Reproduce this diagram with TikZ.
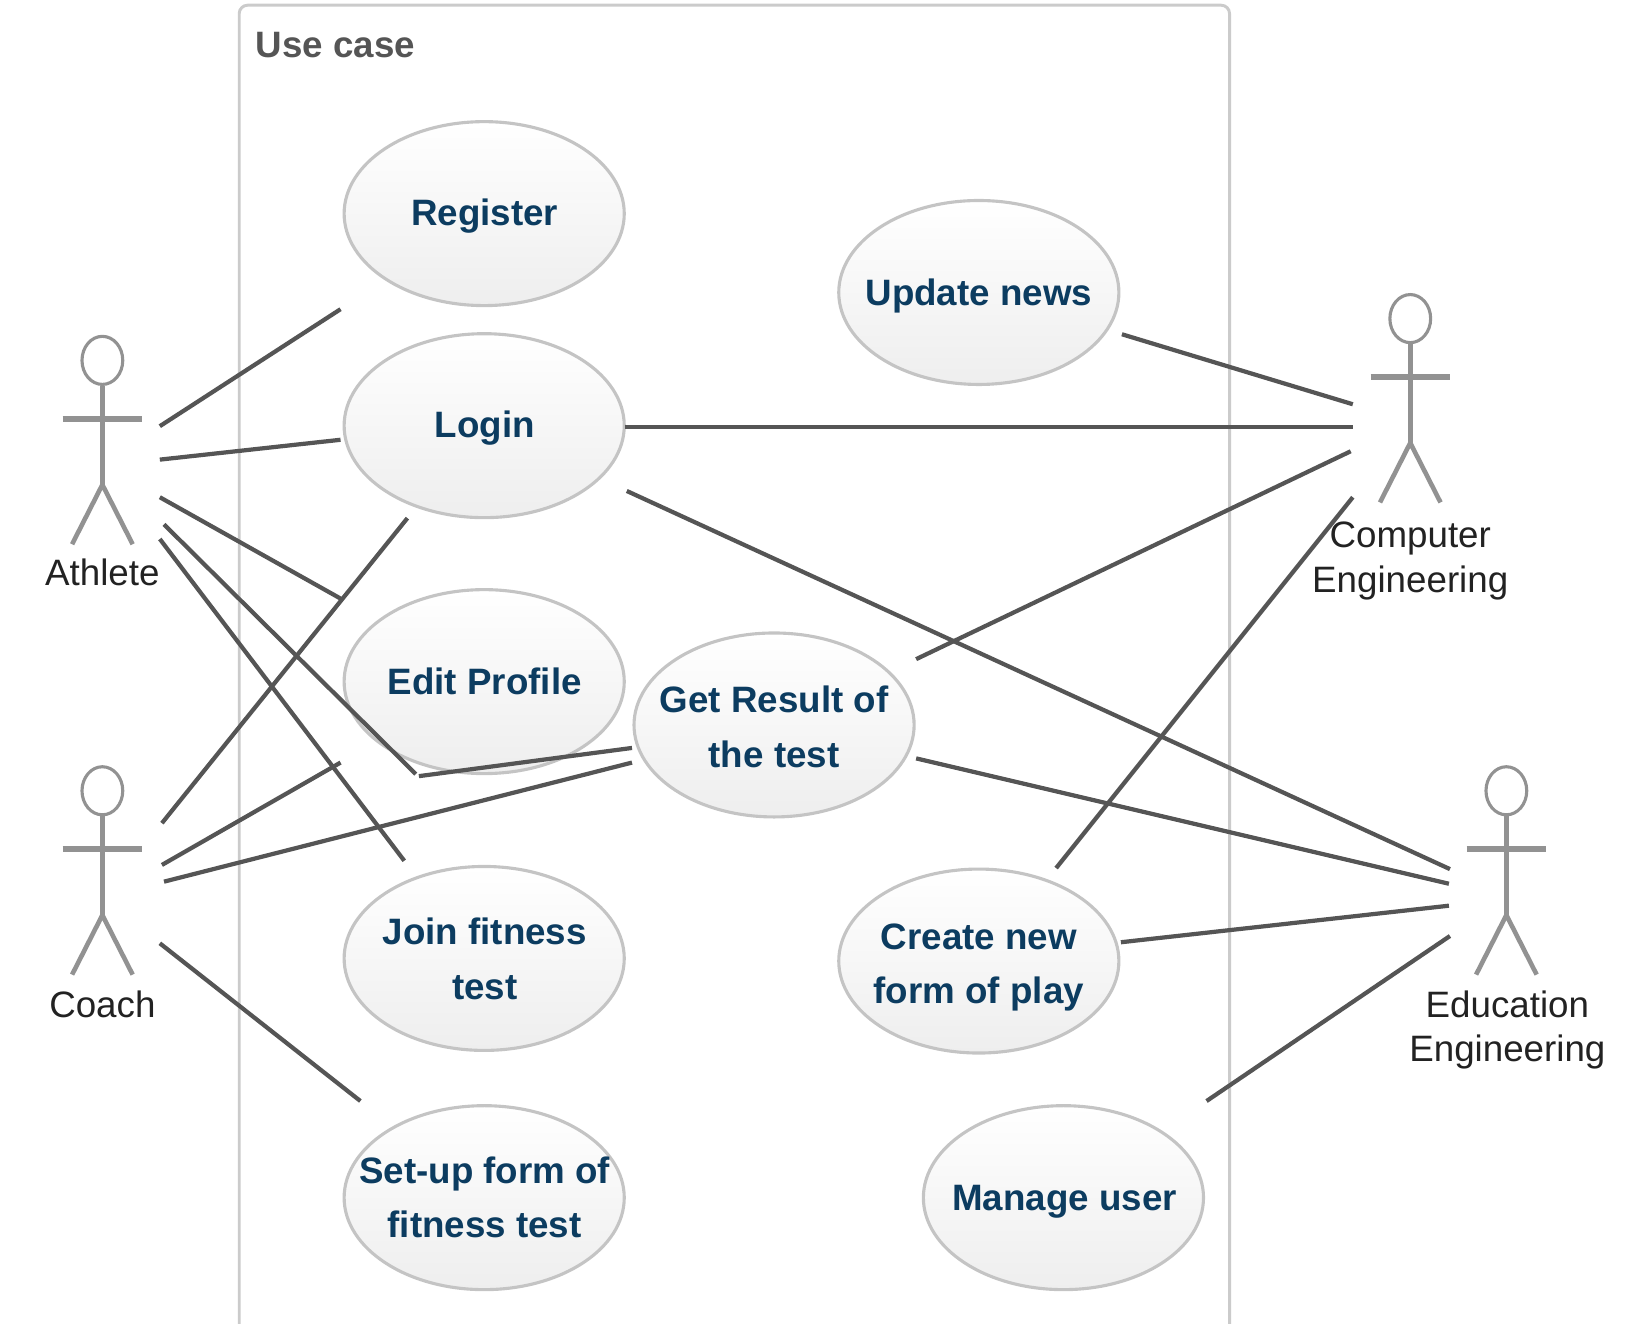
\documentclass[tikz,border=0pt]{standalone}
\usepackage{fontspec}
\setmainfont{Liberation Sans}
\usetikzlibrary{shapes.geometric}
\definecolor{ucfill}{HTML}{EEEEEE}
\definecolor{ucedge}{HTML}{C4C4C4}
\definecolor{uctxt}{HTML}{0C3C60}
\definecolor{lnk}{HTML}{555555}
\definecolor{stick}{HTML}{929292}
\definecolor{frm}{HTML}{CBCBCB}
\definecolor{ttl}{HTML}{555555}
\definecolor{actxt}{HTML}{222222}
\tikzset{
  usecase/.style={ellipse,draw=ucedge,line width=0.85pt,top color=white,bottom color=ucfill,minimum width=2.68cm,minimum height=1.76cm,inner sep=0pt},
  uctext/.style={align=center,text=uctxt,font=\fontsize{10}{14.8}\selectfont\bfseries,inner sep=0pt},
  actorlabel/.style={align=center,text=actxt,font=\fontsize{10}{12}\selectfont,inner sep=0pt},
  link/.style={draw=lnk,line width=1.15pt},
  stickline/.style={draw=stick,line width=1.25pt},
  stickarm/.style={draw=stick,line width=1.6pt},
}
\newcommand{\stickman}[3]{% name, x, y of head centre
  \node[ellipse,draw=stick,line width=0.85pt,minimum width=0.39cm,minimum height=0.46cm,inner sep=0pt] (#1head) at (#2,#3) {};
  \coordinate (#1hip) at (#2,#3+119);
  \coordinate (#1la) at (#2-38,#3+56);
  \coordinate (#1ra) at (#2+38,#3+56);
  \coordinate (#1ll) at (#2-29,#3+176);
  \coordinate (#1rl) at (#2+29,#3+176);
  \draw[stickline] (#1head.south) -- (#1hip);
  \draw[stickarm] (#1la) -- (#1ra);
  \draw[stickline] (#1ll) -- (#1hip) -- (#1rl);
}
\begin{document}
\begin{tikzpicture}[x=0.01cm,y=-0.01cm]
\useasboundingbox (0,0) rectangle (1568,1267.4);
\clip (0,0) rectangle (1568,1267.4);
% frame
\coordinate (fa) at (229,1290);
\coordinate (fb) at (229,5);
\coordinate (fc) at (1177,5);
\coordinate (fd) at (1177,1290);
\draw[draw=frm,line width=0.8pt,rounded corners=0.08cm] (fa) -- (fb) -- (fc) -- (fd);
\node[anchor=west,text=ttl,font=\fontsize{10}{12}\selectfont\bfseries,inner sep=0pt] (title) at (244,43) {Use case};
% use cases
\node[usecase] (register) at (463.5,204.5) {};
\node[usecase] (login) at (463.5,407.5) {};
\node[usecase] (edit) at (463.5,652.5) {};
\node[usecase] (result) at (741,694) {};
\node[usecase] (join) at (463.5,917.5) {};
\node[usecase] (setup) at (463.5,1146.5) {};
\node[usecase] (news) at (937,280) {};
\node[usecase] (create) at (937,920) {};
\node[usecase] (manage) at (1018,1146.5) {};
\node[uctext] (tregister) at (464,207) {Register};
\node[uctext] (tlogin) at (464,410) {Login};
\node[uctext] (tedit) at (464,652) {Edit Profile};
\node[uctext] (tresult) at (741,696) {Get Result of\\the test};
\node[uctext] (tjoin) at (464,918) {Join fitness\\test};
\node[uctext] (tsetup) at (464,1146) {Set-up form of\\fitness test};
\node[uctext] (tnews) at (937,283) {Update news};
\node[uctext] (tcreate) at (937,926) {Create new\\form of play};
\node[uctext] (tmanage) at (1019,1150) {Manage user};
% actors
\stickman{ath}{98}{345}
\stickman{coa}{98}{757}
\stickman{com}{1350}{305}
\stickman{edu}{1442}{757}
\node[actorlabel] (lath) at (98,548) {Athlete};
\node[actorlabel] (lcoa) at (98,961) {Coach};
\node[actorlabel] (lcom) at (1350,537) {Computer\\Engineering};
\node[actorlabel] (ledu) at (1443,986) {Education\\Engineering};
% connector ends
\coordinate (a1) at (153,408); \coordinate (reg1) at (326,296);
\coordinate (a2) at (153,440); \coordinate (log1) at (326,421);
\coordinate (a3) at (153,476); \coordinate (edi1) at (326,573);
\coordinate (a4) at (157,502); \coordinate (b1) at (398,741);
\coordinate (b2) at (401,743); \coordinate (res1) at (605,716);
\coordinate (a5) at (153,516); \coordinate (joi1) at (387,824);
\coordinate (c1) at (155,788); \coordinate (log2) at (390,496);
\coordinate (c2) at (155,828); \coordinate (edi2) at (326,730);
\coordinate (c3) at (157,844); \coordinate (res2) at (605,730);
\coordinate (c4) at (153,903); \coordinate (set1) at (345,1054);
\coordinate (p1) at (1295,387); \coordinate (new1) at (1074,320);
\coordinate (p2) at (1295,409); \coordinate (log3) at (598,409);
\coordinate (p3) at (1293,432); \coordinate (res3) at (877,631);
\coordinate (p4) at (1295,476); \coordinate (cre1) at (1011,831);
\coordinate (e1) at (1388,832); \coordinate (log4) at (600,470);
\coordinate (e2) at (1387,846); \coordinate (res4) at (877,726);
\coordinate (e3) at (1387,867); \coordinate (cre2) at (1073,902);
\coordinate (e4) at (1388,896); \coordinate (man1) at (1155,1054);
% connectors
\draw[link] (a1) -- (reg1);
\draw[link] (a2) -- (log1);
\draw[link] (a3) -- (edi1);
\draw[link] (a4) -- (b1);
\draw[link] (b2) -- (res1);
\draw[link] (a5) -- (joi1);
\draw[link] (c1) -- (log2);
\draw[link] (c2) -- (edi2);
\draw[link] (c3) -- (res2);
\draw[link] (c4) -- (set1);
\draw[link] (new1) -- (p1);
\draw[link] (log3) -- (p2);
\draw[link] (res3) -- (p3);
\draw[link] (cre1) -- (p4);
\draw[link] (log4) -- (e1);
\draw[link] (res4) -- (e2);
\draw[link] (cre2) -- (e3);
\draw[link] (man1) -- (e4);
\end{tikzpicture}
\end{document}
